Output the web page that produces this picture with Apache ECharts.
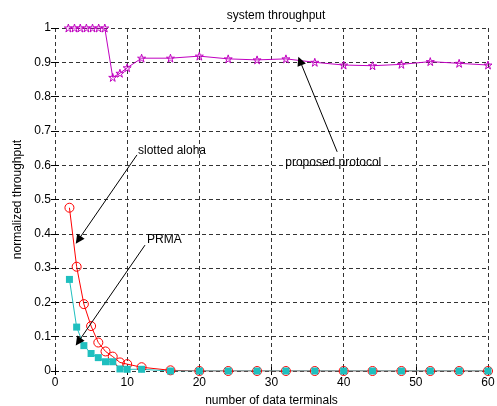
<!DOCTYPE html>
<html>
<head>
<meta charset="utf-8">
<script src="https://cdn.jsdelivr.net/npm/echarts@6/dist/echarts.min.js"></script>
<style>html,body{margin:0;padding:0;background:#fff}#c{width:497px;height:406px}</style>
</head>
<body>
<div id="c"></div>
<script>
// ---- data ----
const termsA = [2,3,4,5,6,7,8,9,10,12,16,20,24,28,32,36,40,44,48,52,56,60];
const alohaVals = [0.476,0.304,0.195,0.131,0.083,0.057,0.042,0.025,0.020,0.011,0.002,0,0,0,0,0,0,0,0,0,0,0];
const prmaVals  = [0.267,0.128,0.074,0.051,0.039,0.027,0.027,0.006,0.005,0.005,0,0,0,0,0,0,0,0,0,0,0,0];
const termsP = [1.85,2.7,3.5,4.35,5.2,6.05,6.9,8,9,10,12,16,20,24,28,32,36,40,44,48,52,56,60];
const proposedVals = [1,1,1,1,1,1,1,0.856,0.868,0.884,0.912,0.912,0.918,0.910,0.907,0.910,0.900,0.892,0.890,0.894,0.902,0.897,0.892];
const xTicks = [0,10,20,30,40,50,60];
const yTicks = [0,0.1,0.2,0.3,0.4,0.5,0.6,0.7,0.8,0.9,1];
const titleText = 'system throughput';
const xName = 'number of data terminals';
const yName = 'normalized throughput';
// annotations: [label, text anchor [x,y], arrow start [x,y], arrow end [x,y]]
const notes = [
  ['slotted aloha', [11.5,0.643], [11.36,0.630], [3.23,0.382]],
  ['PRMA', [12.75,0.382], [12.47,0.367], [3.23,0.085]],
  ['proposed protocol', [31.9,0.606], [39.1,0.639], [33.95,0.904]]
];

const FONT = 'Liberation Sans, Arial, sans-serif';
const pair = (xs, ys) => xs.map((x, i) => [x, ys[i]]);
const star = 'path://M50,2 L61,36 L97,36 L68,57 L79,92 L50,70 L21,92 L32,57 L3,36 L39,36 Z';

const chart = echarts.init(document.getElementById('c'), null, {renderer: 'canvas'});
const gridLine = {show: true, lineStyle: {color: '#333', width: 1, type: [4, 3]}};
const labelStyle = {color: '#000', fontFamily: FONT, fontSize: 12};

chart.setOption({
  animation: false,
  backgroundColor: '#fff',
  title: {text: titleText, left: 271, textAlign: 'center', top: 5,
    textStyle: {fontFamily: FONT, fontSize: 12, fontWeight: 'normal', color: '#000'}},
  grid: {left: 55, right: 9, top: 28, bottom: 35, containLabel: false, outerBoundsMode: 'none'},
  xAxis: [{
    type: 'value', min: 0, max: 60, interval: 10,
    name: xName, nameLocation: 'middle', nameGap: 24,
    nameTextStyle: labelStyle,
    axisLine: {show: false},
    axisTick: {show: true, inside: true, length: 4, lineStyle: {color: '#000'}},
    axisLabel: Object.assign({margin: 6}, labelStyle),
    splitLine: gridLine
  }, {
    type: 'value', position: 'top', min: 0, max: 60, interval: 10,
    axisLine: {show: false}, axisLabel: {show: false},
    axisTick: {show: true, inside: true, length: 4, lineStyle: {color: '#000'}},
    splitLine: {show: false}
  }],
  yAxis: [{
    type: 'value', min: 0, max: 1, interval: 0.1,
    name: yName, nameLocation: 'middle', nameGap: 28,
    nameTextStyle: labelStyle,
    axisLine: {show: false},
    axisTick: {show: true, inside: true, length: 4, lineStyle: {color: '#000'}},
    axisLabel: Object.assign({margin: 4, formatter: v => String(+v.toFixed(1))}, labelStyle),
    splitLine: gridLine
  }, {
    type: 'value', position: 'right', min: 0, max: 1, interval: 0.1,
    axisLine: {show: false}, axisLabel: {show: false},
    axisTick: {show: true, inside: true, length: 4, lineStyle: {color: '#000'}},
    splitLine: {show: false}
  }],
  series: [
    {
      name: 'slotted aloha', type: 'line', data: pair(termsA, alohaVals),
      symbol: 'circle', symbolSize: 9, showAllSymbol: true,
      lineStyle: {color: '#ff0000', width: 1},
      itemStyle: {color: 'rgba(255,255,255,0)', borderColor: '#ff0000', borderWidth: 1},
      markPoint: {
        silent: true, symbol: 'circle', symbolSize: 0,
        label: {show: true, position: 'right', distance: 0, color: '#000', fontFamily: FONT, fontSize: 12,
          formatter: p => p.name},
        data: notes.map(n => ({name: n[0], coord: n[1]}))
      },
      markLine: {
        silent: true, symbol: ['none', 'triangle'], symbolSize: 9,
        label: {show: false},
        itemStyle: {color: '#000'},
        lineStyle: {color: '#000', width: 1, type: 'solid'},
        data: notes.map(n => [{coord: n[2]}, {coord: n[3]}])
      }
    },
    {
      name: 'PRMA', type: 'line', data: pair(termsA, prmaVals),
      symbol: 'rect', symbolSize: 7, showAllSymbol: true,
      lineStyle: {color: '#1fbfbf', width: 1},
      itemStyle: {color: '#1fbfbf'}
    },
    {
      name: 'proposed protocol', type: 'line', data: pair(termsP, proposedVals),
      symbol: star, symbolSize: 8, showAllSymbol: true,
      lineStyle: {color: '#c000c0', width: 1},
      itemStyle: {color: 'rgba(0,0,0,0)', borderColor: '#c000c0', borderWidth: 1}
    }
  ]
});
</script>
</body>
</html>
